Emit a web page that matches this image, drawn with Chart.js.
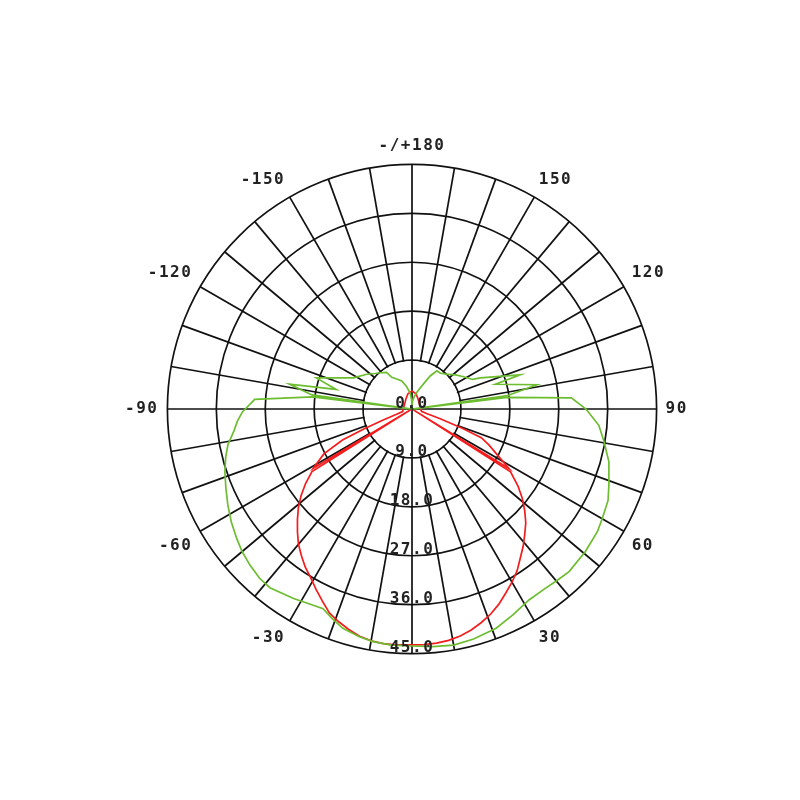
<!DOCTYPE html>
<html>
<head>
<meta charset="utf-8">
<script src="https://cdn.jsdelivr.net/npm/chart.js@4.4.1/dist/chart.umd.min.js"></script>
<style>
html,body{margin:0;padding:0;background:#ffffff;}
canvas{display:block;}
</style>
</head>
<body>
<canvas id="c" width="800" height="800" style="width:800px;height:800px"></canvas>
<script>
// ---- categories: polar angle, 0.5 degree steps, clockwise from the bottom (0) ----
const STEP = 0.5;
const N = 720;
const angleLabels = [];
for (let i = 0; i < N; i++) {
  const t = i <= 360 ? -i * STEP : 360 - i * STEP;
  angleLabels.push(String(t === 0 ? 0 : t));
}

// ---- radial ticks ----
const tickValues = [0, 9, 18, 27, 36, 45];
const tickLabels = ['0.0', '9.0', '18.0', '27.0', '36.0', '45.0'];

// ---- red curve (angle in degrees, value) ----
const redAngles = [0, 3, 6, 9, 12, 15, 18, 21, 24, 27, 30, 33, 36, 39, 42, 45, 48, 51, 54, 57.5, 58, 58.5, 62, 65, 67.5, 69, 71, 73, 76, 90, 120, 150, 165, 180,
  -165, -150, -120, -90, -75, -71, -69, -67.5, -66, -63, -59, -58.5, -58, -55, -52, -49, -46, -43, -40, -37, -34, -31, -28, -25, -22, -19, -16, -13, -10, -7, -4];
const redValues = [43.4, 43.4, 43.3, 43.1, 42.7, 42.1, 41.3, 40.4, 39.3, 38.0, 36.8, 35.5, 33.9, 32.5, 31.0, 29.6, 27.9, 26.1, 24.1, 21.5, 0.3, 20.9, 17.6, 15.6, 13.8, 10.0, 5.5, 2.8, 1.8, 1.6, 1.6, 2.2, 2.9, 3.3,
  2.9, 2.2, 1.6, 1.6, 1.8, 3.0, 6.0, 9.5, 14.0, 18.2, 21.2, 0.3, 21.7, 23.9, 25.9, 27.7, 29.3, 30.9, 32.5, 33.8, 35.1, 36.2, 37.6, 39.0, 40.5, 41.4, 42.2, 42.9, 43.3, 43.5, 43.5];

// ---- green curve (angle in degrees, value) ----
const greenAngles = [0, 5, 10, 15, 21, 26, 31.5, 36.5, 40, 44, 50.5, 56.5, 60, 65, 69, 75, 80.5, 85, 90, 94, 97, 97.5, 98, 101, 106.5, 107.5, 114.5, 116, 122, 128, 136, 142, 147, 151, 154, 158, 163, 170, 176, 180,
  -177, -173, -166, -160, -153, -147.5, -145, -138.5, -134, -127.5, -118, -112.5, -108, -104.5, -101.5, -98, -97.5, -97, -93.5, -89, -86, -83, -79, -75.5, -71.5, -67, -62.5, -58, -53.5, -50, -46, -42, -38.5, -32, -27.5, -24, -21, -17.5, -13, -9.5, -5];
const greenValues = [43.6, 43.9, 44.1, 43.8, 43.2, 42.2, 41.2, 41.1, 41.3, 41.6, 41.3, 40.9, 40.4, 39.8, 38.8, 37.5, 35.8, 34.5, 32.0, 29.4, 17.6, 0.3, 17.8, 23.4, 16.0, 20.9, 13.8, 12.4, 11.2, 10.2, 8.9, 8.4, 8.4, 7.0, 5.6, 4.3, 3.3, 2.3, 1.5, 0.8,
  1.8, 3.0, 4.3, 5.5, 6.2, 6.9, 8.2, 8.9, 9.4, 10.5, 12.2, 15.0, 18.5, 14.4, 23.0, 18.6, 0.3, 18.4, 29.0, 31.2, 32.2, 33.0, 34.5, 35.4, 36.3, 37.2, 38.2, 39.2, 40.1, 40.8, 41.4, 41.9, 42.0, 41.1, 40.5, 40.2, 41.2, 42.3, 43.0, 43.4, 43.6];

function toIndex(t) {
  return t <= 0 ? Math.round(-t / STEP) : Math.round((360 - t) / STEP);
}
function buildSeries(angles, values) {
  const arr = new Array(N).fill(null);
  angles.forEach((t, k) => { arr[toIndex(t)] = values[k]; });
  return arr;
}

const GRID = '#111111';
const GRID_W = 1.7;
const FONT = "'DejaVu Sans Mono', monospace";
const SPACING = '1.5px';

const decor = {
  id: 'decor',
  beforeLayout(chart) { chart.ctx.letterSpacing = SPACING; },
  beforeDraw(chart) { chart.ctx.letterSpacing = SPACING; },
  beforeDatasetsDraw(chart) {
    const s = chart.scales.r;
    const ctx = chart.ctx;
    const cx = s.xCenter, cy = s.yCenter;
    const d = s.getDistanceFromCenterForValue(tickValues[1]);
    ctx.save();
    ctx.beginPath();
    ctx.arc(cx, cy, d - 1, 0, Math.PI * 2);
    ctx.fillStyle = '#ffffff';
    ctx.fill();
    ctx.strokeStyle = GRID;
    ctx.lineWidth = GRID_W;
    ctx.beginPath();
    ctx.moveTo(cx - d, cy); ctx.lineTo(cx + d, cy);
    ctx.moveTo(cx, cy - d); ctx.lineTo(cx, cy + d);
    ctx.stroke();
    ctx.restore();
  },
  afterDatasetsDraw(chart) {
    const s = chart.scales.r;
    const ctx = chart.ctx;
    ctx.save();
    ctx.letterSpacing = SPACING;
    ctx.font = "bold 16px " + FONT;
    ctx.fillStyle = '#222222';
    ctx.textAlign = 'center';
    ctx.textBaseline = 'alphabetic';
    tickValues.forEach((v, k) => {
      const y = s.yCenter + s.getDistanceFromCenterForValue(v) - 1.5;
      ctx.fillText(tickLabels[k], s.xCenter, y);
    });
    ctx.restore();
  }
};

new Chart(document.getElementById('c'), {
  type: 'radar',
  data: {
    labels: angleLabels,
    datasets: [
      { label: 'C90-C270', data: buildSeries(greenAngles, greenValues), borderColor: '#6cbd2f', borderWidth: 1.7, fill: false, spanGaps: true, pointRadius: 0, tension: 0 },
      { label: 'C0-C180', data: buildSeries(redAngles, redValues), borderColor: '#f41c1c', borderWidth: 1.7, fill: false, spanGaps: true, pointRadius: 0, tension: 0 }
    ]
  },
  options: {
    responsive: false,
    animation: false,
    devicePixelRatio: 1,
    layout: { padding: { left: 120, right: 106, top: 123, bottom: 103 } },
    plugins: { legend: { display: false }, tooltip: { enabled: false } },
    elements: { point: { radius: 0 }, line: { tension: 0 } },
    scales: {
      r: {
        startAngle: 180,
        min: 0,
        max: 45,
        ticks: { stepSize: 9, display: false },
        grid: { circular: true, color: GRID, lineWidth: GRID_W },
        angleLines: {
          display: true,
          color: GRID,
          lineWidth: (ctx) => (ctx.index % 20 === 0 ? GRID_W : 0)
        },
        pointLabels: {
          display: true,
          padding: 9,
          color: '#222222',
          font: { family: FONT, size: 16, weight: 'bold' },
          callback: (label) => {
            const v = parseFloat(label);
            if (v !== 0 && v % 30 === 0) return v === -180 ? '-/+180' : String(v);
            return '';
          }
        }
      }
    }
  },
  plugins: [decor]
});
</script>
</body>
</html>
